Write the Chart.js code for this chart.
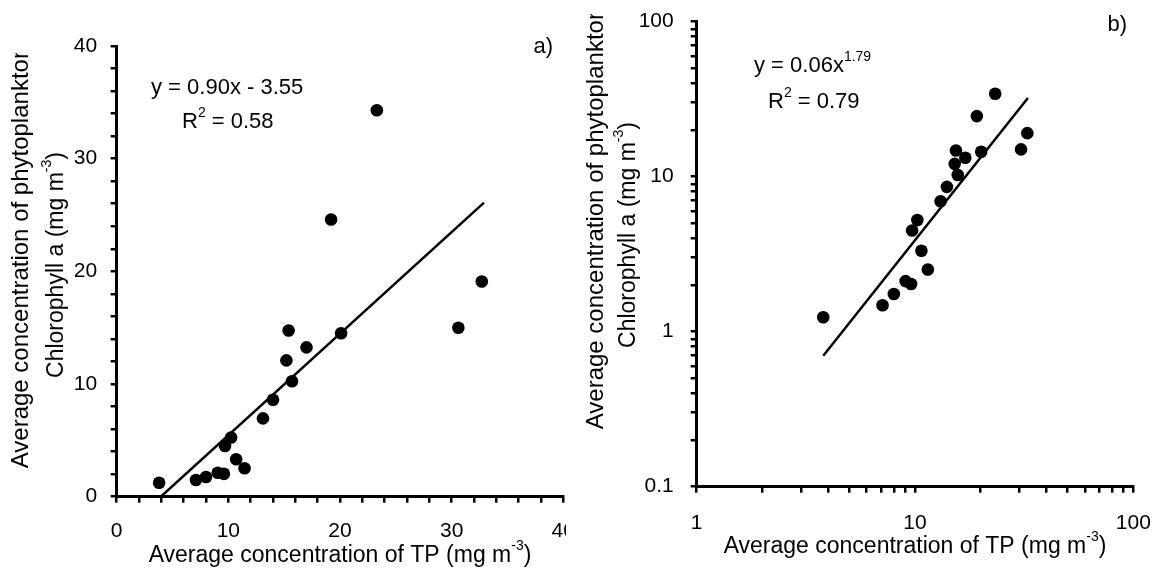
<!DOCTYPE html>
<html>
<head>
<meta charset="utf-8">
<script src="https://cdn.jsdelivr.net/npm/chart.js@4.4.1/dist/chart.umd.min.js"></script>
<style>
  html, body { margin: 0; padding: 0; background: #fff; overflow: hidden; }
  #wrapA { position: absolute; left: 0; top: 0; width: 580px; height: 571px; }
  #wrapB { position: absolute; left: 566px; top: 0; width: 595px; height: 571px; }
</style>
</head>
<body>
<div id="wrapA"><canvas id="chartA" width="580" height="571"></canvas></div>
<div id="wrapB"><canvas id="chartB" width="595" height="571"></canvas></div>
<script>
// average TP (mg m-3) and chlorophyll a (mg m-3) per site
var tpValues  = [3.8, 7.1, 8.0, 9.05, 9.6, 9.7, 10.25, 10.7, 11.45, 13.1, 14.0, 15.2, 15.4, 15.7, 17.0, 19.2, 20.1, 23.3, 30.6, 32.7];
var chlValues = [1.24, 1.48, 1.75, 2.12, 2.03, 4.5, 5.25, 3.33, 2.52, 6.95, 8.6, 12.1, 14.75, 10.25, 13.25, 24.6, 14.5, 34.3, 15.0, 19.1];

// fitted lines, end points as drawn
var linearFitX = [3.95, 32.9];
var linearFitY = [0, 26.1];
var powerFitX = [3.8, 32.9];
var powerFitY = [0.7, 32.2];

// labelled ticks
var linTickLabels = [0, 10, 20, 30, 40];
var logTickLabels = [0.1, 1, 10, 100];

var FONT = '"Liberation Sans", Arial, sans-serif';

function points(xs, ys) {
  return xs.map(function (x, i) { return { x: x, y: ys[i] }; });
}

// draws a run of text pieces, [text, isSuperscript]
function drawRich(ctx, parts, x, y, size, align) {
  var supSize = Math.round(size * 0.62);
  var total = 0;
  parts.forEach(function (p) {
    ctx.font = (p[1] ? supSize : size) + "px " + FONT;
    total += ctx.measureText(p[0]).width;
  });
  var cx = align === "center" ? x - total / 2 : (align === "right" ? x - total : x);
  ctx.textAlign = "left";
  ctx.textBaseline = "middle";
  ctx.fillStyle = "#000";
  parts.forEach(function (p) {
    ctx.font = (p[1] ? supSize : size) + "px " + FONT;
    ctx.fillText(p[0], cx, p[1] ? y - size * 0.42 : y);
    cx += ctx.measureText(p[0]).width;
  });
  return total;
}

var notesPlugin = {
  id: "notes",
  beforeDraw: function (chart, args, o) {
    if (o.whiteBg) {
      var c = chart.ctx;
      c.save();
      c.fillStyle = "#fff";
      c.fillRect(0, 0, chart.width, chart.height);
      c.restore();
    }
  },
  afterDraw: function (chart, args, o) {
    var ctx = chart.ctx;
    var area = chart.chartArea;
    ctx.save();
    // x axis title
    drawRich(ctx, [["Average concentration of TP (mg m", false], ["-3", true], [")", false]],
      (area.left + area.right) / 2, o.xTitleY, 23, "center");

    // y axis title, first line runs past its box and loses half its last letter
    var size1 = 24;
    ctx.save();
    ctx.translate(o.yTitleX1, o.yTitleY1);
    ctx.rotate(-Math.PI / 2);
    ctx.font = size1 + "px " + FONT;
    var line1 = "Average concentration of phytoplankton";
    var w = ctx.measureText(line1).width;
    var cut = ctx.measureText("n").width * 0.55;
    ctx.beginPath();
    ctx.rect(-w / 2 - 5, -size1, w + 5 - cut, size1 * 2);
    ctx.clip();
    drawRich(ctx, [[line1, false]], 0, 0, size1, "center");
    ctx.restore();

    ctx.save();
    ctx.translate(o.yTitleX2, o.yTitleY2);
    ctx.rotate(-Math.PI / 2);
    drawRich(ctx, [["Chlorophyll a (mg m", false], ["-3", true], [")", false]], 0, 0, 23, "center");
    ctx.restore();

    // equation and R2
    drawRich(ctx, o.eq, o.eqX, o.eqY, 22, "left");
    drawRich(ctx, o.r2, o.r2X, o.r2Y, 22, "left");

    // panel letter
    drawRich(ctx, [[o.panel, false]], o.panelX, o.panelY, 22, "right");
    ctx.restore();
  }
};

// fixed axis box, no extra room for edge labels
function fixSize(prop, size) {
  return function (s) {
    s[prop] = size;
    s.paddingLeft = 0;
    s.paddingRight = 0;
    s.paddingTop = 0;
    s.paddingBottom = 0;
  };
}

function axisBase(padding) {
  return {
    ticks: {
      autoSkip: false,
      maxRotation: 0,
      padding: padding,
      color: "#000",
      font: { family: FONT, size: 21 }
    },
    grid: { drawOnChartArea: false, drawTicks: true, tickLength: 6, color: "#000", lineWidth: 2.5 },
    border: { display: true, color: "#000", width: 3 }
  };
}

function linAxis(padding, fit) {
  var a = axisBase(padding);
  a.type = "linear";
  a.min = 0;
  a.max = 40;
  a.ticks.stepSize = 2;
  a.ticks.callback = function (v) { return linTickLabels.indexOf(v) >= 0 ? String(v) : ""; };
  a.afterFit = fit;
  return a;
}

function logAxis(padding, min, max, fit) {
  var a = axisBase(padding);
  a.type = "logarithmic";
  a.min = min;
  a.max = max;
  a.afterBuildTicks = function (scale) {
    var list = [];
    for (var d = min; d < max * 0.99; d *= 10) {
      for (var k = 1; k < 10; k++) list.push(Number((k * d).toPrecision(3)));
    }
    list.push(max);
    scale.ticks = list.map(function (v) { return { value: v }; });
  };
  a.ticks.callback = function (v) {
    for (var i = 0; i < logTickLabels.length; i++) {
      if (Math.abs(v - logTickLabels[i]) < 1e-9 * logTickLabels[i] + 1e-12) return String(logTickLabels[i]);
    }
    return "";
  };
  a.afterFit = fit;
  return a;
}

function datasets(fitX, fitY) {
  return [
    {
      data: points(tpValues, chlValues),
      backgroundColor: "#000",
      borderWidth: 0,
      pointRadius: 6.3,
      pointHoverRadius: 6.3
    },
    {
      data: points(fitX, fitY),
      showLine: true,
      borderColor: "#000",
      borderWidth: 2.5,
      pointRadius: 0,
      fill: false
    }
  ];
}

new Chart(document.getElementById("chartA"), {
  type: "scatter",
  data: { datasets: datasets(linearFitX, linearFitY) },
  options: {
    responsive: false,
    animation: false,
    events: [],
    layout: { padding: { top: 46, right: 16.7, bottom: 0, left: 0 } },
    plugins: {
      legend: { display: false },
      tooltip: { enabled: false },
      notes: {
        xTitleY: 556,
        yTitleX1: 21, yTitleY1: 257, yTitleX2: 57, yTitleY2: 265,
        eq: [["y = 0.90x - 3.55", false]], eqX: 151, eqY: 88,
        r2: [["R", false], ["2", true], [" = 0.58", false]], r2X: 182, r2Y: 122,
        panel: "a)", panelX: 553, panelY: 47
      }
    },
    scales: {
      x: linAxis(16, fixSize("height", 74.3)),
      y: linAxis(13.5, fixSize("width", 116.7))
    }
  },
  plugins: [notesPlugin]
});

new Chart(document.getElementById("chartB"), {
  type: "scatter",
  data: { datasets: datasets(powerFitX, powerFitY) },
  options: {
    responsive: false,
    animation: false,
    events: [],
    layout: { padding: { top: 21.7, right: 27.7, bottom: 0, left: 0 } },
    plugins: {
      legend: { display: false },
      tooltip: { enabled: false },
      notes: {
        whiteBg: true,
        xTitleY: 547,
        yTitleX1: 30, yTitleY1: 218, yTitleX2: 63, yTitleY2: 235,
        eq: [["y = 0.06x", false], ["1.79", true]], eqX: 188, eqY: 66,
        r2: [["R", false], ["2", true], [" = 0.79", false]], r2X: 202, r2Y: 102,
        panel: "b)", panelX: 561, panelY: 25
      }
    },
    scales: {
      x: logAxis(18, 1, 100, fixSize("height", 84.3)),
      y: logAxis(17, 0.1, 100, fixSize("width", 130.7))
    }
  },
  plugins: [notesPlugin]
});
</script>
</body>
</html>
